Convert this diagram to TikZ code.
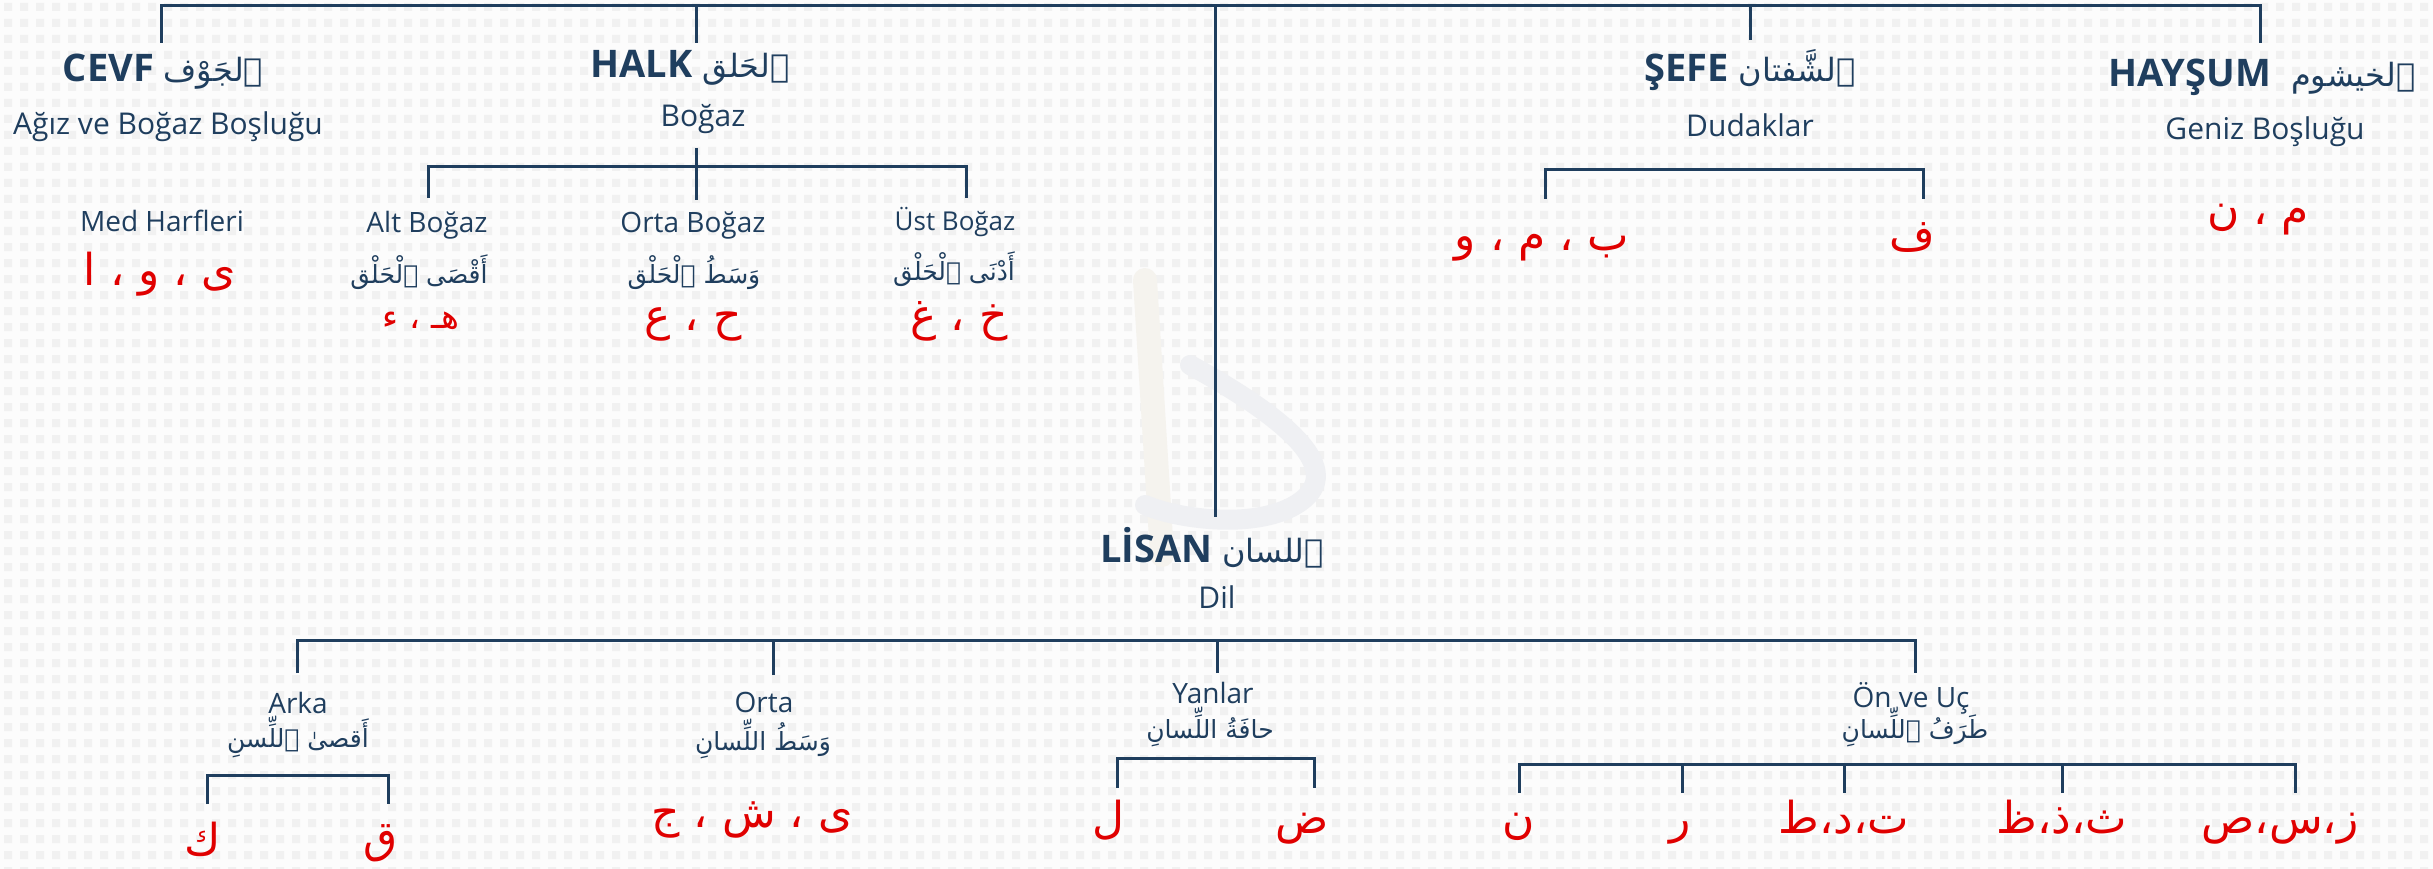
\documentclass[tikz,border=0pt]{standalone}
\usepackage{fontspec}
\setmainfont{Open Sans}
\newfontfamily\arabicfont[Script=Arabic]{DejaVu Sans}
\TeXXeTstate=1
\newcommand{\artext}[1]{{\arabicfont\beginR #1\endR}}
\newcommand{\arhead}[1]{{\fontsize{32}{34}\selectfont\artext{#1}}}
\definecolor{inknavy}{HTML}{1F3E5E}
\definecolor{harfred}{HTML}{E00000}
\definecolor{paper}{HTML}{FCFCFC}
\definecolor{dotgray}{HTML}{F1F1F1}
\definecolor{markgray}{HTML}{EFF0F3}
\definecolor{markbeige}{HTML}{F5F3EE}
\tikzset{
  branch/.style={draw=inknavy, line width=3pt},
  head/.style={anchor=base, inner sep=0pt, text=inknavy, font=\fontsize{38}{40}\selectfont},
  gloss/.style={anchor=base, inner sep=0pt, text=inknavy, font=\fontsize{30}{32}\selectfont},
  part/.style={anchor=base, inner sep=0pt, text=inknavy, font=\fontsize{28}{30}\selectfont},
  arpart/.style={anchor=base, inner sep=0pt, text=inknavy, font=\fontsize{25}{29}\selectfont},
  harf/.style={anchor=base, inner sep=0pt, text=harfred, font=\fontsize{44}{48}\selectfont}
}
\begin{document}
\begin{tikzpicture}[x=1pt, y=-1pt]
  \useasboundingbox (0,0) rectangle (2433,869);
  \fill[paper] (0,0) rectangle (2433,869);
  \foreach \i in {0,...,152}
    \fill[dotgray] \foreach \j in {0,...,54} {(16*\i+4,16*\j+3) rectangle ++(8,8)};
  \draw[markbeige, line width=24pt, line cap=round] (1145,280) -- (1162,555);
  \draw[markgray, line width=20pt, line cap=round] (1190,365) .. controls (1290,420) and (1345,470) .. (1300,502) .. controls (1260,530) and (1180,520) .. (1145,505);

  \coordinate (topBar) at (1215,6);
  \coordinate (cevfLeg) at (161,43);
  \coordinate (halkLeg) at (696,43);
  \coordinate (sefeLeg) at (1750,40);
  \coordinate (haysLeg) at (2260,43);
  \coordinate (lisanLeg) at (1215,517);
  \draw[branch] (cevfLeg) |- (topBar) -| (haysLeg);
  \draw[branch] (halkLeg) -- (halkLeg |- topBar);
  \draw[branch] (sefeLeg) -- (sefeLeg |- topBar);
  \draw[branch] (topBar) -- (lisanLeg);

  \coordinate (halkStem) at (696,148);
  \coordinate (halkFoot) at (696,200);
  \coordinate (bogBar) at (696,167);
  \coordinate (altLeg) at (428,198);
  \coordinate (ustLeg) at (966,198);
  \draw[branch] (halkStem) -- (halkFoot);
  \draw[branch] (altLeg) |- (bogBar) -| (ustLeg);

  \coordinate (sefeBar) at (1734,170);
  \coordinate (beLeg) at (1545,199);
  \coordinate (feLeg) at (1923,199);
  \draw[branch] (beLeg) |- (sefeBar) -| (feLeg);

  \coordinate (dilBar) at (1217,640);
  \coordinate (arkaLeg) at (297,673);
  \coordinate (ortaLeg) at (773,675);
  \coordinate (yanLeg) at (1217,673);
  \coordinate (onLeg) at (1915,673);
  \draw[branch] (arkaLeg) |- (dilBar) -| (onLeg);
  \draw[branch] (ortaLeg) -- (ortaLeg |- dilBar);
  \draw[branch] (yanLeg) -- (yanLeg |- dilBar);

  \coordinate (arkaBar) at (297,775);
  \coordinate (kafLeg) at (207,804);
  \coordinate (qafLeg) at (388,804);
  \draw[branch] (kafLeg) |- (arkaBar) -| (qafLeg);

  \coordinate (yanBar) at (1215,758);
  \coordinate (lamLeg) at (1117,788);
  \coordinate (dadLeg) at (1314,788);
  \draw[branch] (lamLeg) |- (yanBar) -| (dadLeg);

  \coordinate (onBar) at (1900,764);
  \coordinate (nunLeg) at (1519,793);
  \coordinate (raLeg) at (1682,793);
  \coordinate (taLeg) at (1844,793);
  \coordinate (thaLeg) at (2062,793);
  \coordinate (zayLeg) at (2295,793);
  \draw[branch] (nunLeg) |- (onBar) -| (zayLeg);
  \foreach \leg in {raLeg,taLeg,thaLeg}
    \draw[branch] (\leg) -- (\leg |- onBar);

  \node[head] (cevf) at (163,82) {\textbf{CEVF} \arhead{ٱلجَوْف}};
  \node[head] (halk) at (690,78) {\textbf{HALK} \arhead{ٱلحَلق}};
  \node[head] (sefe) at (1750,82) {\textbf{ŞEFE} \arhead{ٱلشَّفتان}};
  \node[head] (hays) at (2262,87) {\textbf{HAYŞUM}\hspace{20pt}\arhead{ٱلخيشوم}};
  \node[head] (lisan) at (1212,562) {\textbf{LİSAN} \arhead{ٱللسان}};

  \node[gloss] (cevfTr) at (168,135) {Ağız ve Boğaz Boşluğu};
  \node[gloss] (halkTr) at (703,127) {Boğaz};
  \node[gloss] (sefeTr) at (1750,137) {Dudaklar};
  \node[gloss] (haysTr) at (2265,140) {Geniz Boşluğu};
  \node[gloss] (lisanTr) at (1217,608) {Dil};

  \node[part] (med) at (162,232) {Med Harfleri};
  \node[part] (alt) at (427,233) {Alt Boğaz};
  \node[part] (orta) at (693,233) {Orta Boğaz};
  \node[part, font=\fontsize{26}{28}\selectfont] (ust) at (955,230) {Üst Boğaz};
  \node[part] (arka) at (298,713) {Arka};
  \node[part] (ortaDil) at (764,712) {Orta};
  \node[part] (yan) at (1213,703) {Yanlar};
  \node[part] (on) at (1911,707) {Ön ve Uç};

  \node[arpart] (altAr) at (419,283) {\artext{أَقْصَى ٱلْحَلْق}};
  \node[arpart] (ortaAr) at (694,283) {\artext{وَسَطُ ٱلْحَلْق}};
  \node[arpart] (ustAr) at (954,280) {\artext{أَدْنَى ٱلْحَلْق}};
  \node[arpart] (arkaAr) at (298,747) {\artext{أَقصىٰ ٱللِّسنِ}};
  \node[arpart] (ortaDilAr) at (763,750) {\artext{وَسَطُ اللِّسانِ}};
  \node[arpart] (yanAr) at (1210,738) {\artext{حافَةُ اللِّسانِ}};
  \node[arpart] (onAr) at (1915,738) {\artext{طَرَفُ ٱللِّسانِ}};

  \node[harf] (medH) at (160,285) {\artext{ى ، و ، ا}};
  \node[harf, font=\fontsize{34}{38}\selectfont] (altH) at (421,328) {\artext{هـ ، ء}};
  \node[harf] (ortaH) at (693,330) {\artext{ح ، ع}};
  \node[harf] (ustH) at (959,330) {\artext{خ ، غ}};
  \node[harf] (beH) at (1542,250) {\artext{ب ، م ، و}};
  \node[harf] (feH) at (1912,250) {\artext{ف}};
  \node[harf] (haysH) at (2258,225) {\artext{م ، ن}};
  \node[harf] (kaf) at (203,855) {\artext{ك}};
  \node[harf] (qaf) at (381,852) {\artext{ق}};
  \node[harf] (ortaDilH) at (752,827) {\artext{ى ، ش ، ج}};
  \node[harf] (lam) at (1108,833) {\artext{ل}};
  \node[harf] (dad) at (1302,833) {\artext{ض}};
  \node[harf] (nun) at (1519,833) {\artext{ن}};
  \node[harf] (ra) at (1680,833) {\artext{ر}};
  \node[harf] (ta) at (1844,833) {\artext{ت،د،ط}};
  \node[harf] (tha) at (2062,833) {\artext{ث،ذ،ظ}};
  \node[harf] (zay) at (2280,833) {\artext{ز،س،ص}};
\end{tikzpicture}
\end{document}
